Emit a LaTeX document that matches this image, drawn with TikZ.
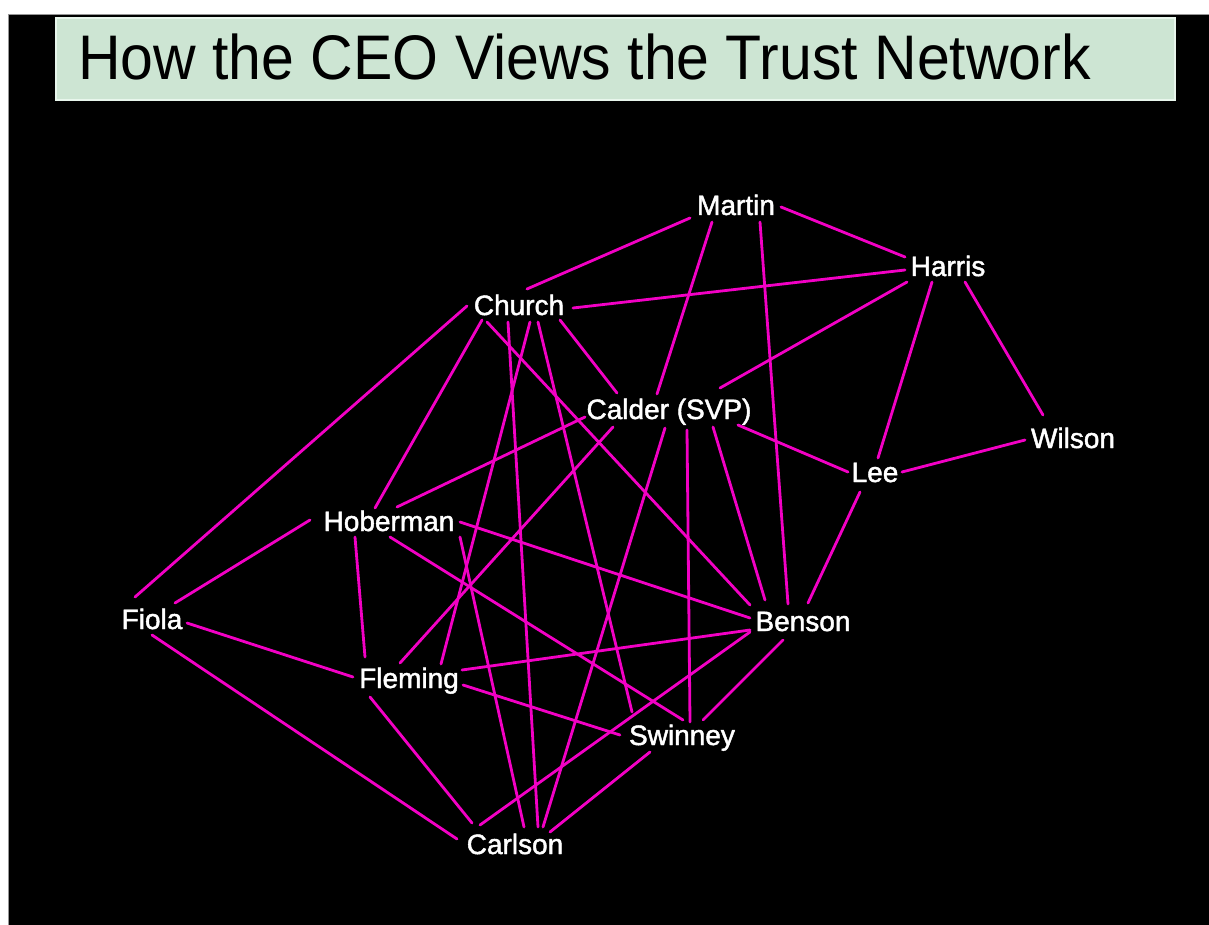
\documentclass[tikz,border=0pt]{standalone}
\usepackage{fontspec}
\setmainfont{Liberation Sans}
\newfontfamily\namefont[FakeBold=1.6]{Liberation Sans}
\usetikzlibrary{calc}
\definecolor{panelbg}{RGB}{0,0,0}
\definecolor{titlebg}{RGB}{205,229,211}
\definecolor{titleedge}{RGB}{232,246,236}
\definecolor{trustline}{RGB}{242,0,196}
\definecolor{frameline}{RGB}{150,150,150}
% one trust tie: node name, offset from its centre, node name, offset
\newcommand\trustlink[4]{\draw[tie] ($(#1)+(#2)$) -- ($(#3)+(#4)$);}
\begin{document}
\begin{tikzpicture}[x=1pt,y=-1pt,
  person/.style={text=white,font=\namefont\fontsize{28}{28}\selectfont,inner sep=0pt,
    text height=20pt,text depth=0pt,anchor=center},
  tie/.style={draw=trustline,line width=2.8pt,line cap=round}]
\useasboundingbox (0,0) rectangle (1209,925);
\fill[white] (0,0) rectangle (1209,925);
\fill[panelbg] (8,15) rectangle (1209,925);
\draw[frameline,line width=1pt] (8,925) -- (8,15) -- (1209,15);
% title banner
\filldraw[fill=titlebg,draw=titleedge,line width=1.5pt] (56,18) rectangle (1175,100);
\node[anchor=base west,inner sep=0pt,text=black] (title) at (78,80)
  {\scalebox{0.936}[1]{\fontsize{63}{63}\selectfont How the CEO Views the Trust Network}};
% people
\node[person] (martin)   at (736,205) {Martin};
\node[person] (harris)   at (948,266) {Harris};
\node[person] (church)   at (519,305) {Church};
\node[person] (calder)   at (669,409) {Calder (SVP)};
\node[person] (wilson)   at (1073,438) {Wilson};
\node[person] (lee)      at (875,472) {Lee};
\node[person] (hoberman) at (389,521) {Hoberman};
\node[person] (fiola)    at (152,619) {Fiola};
\node[person] (benson)   at (803,621) {Benson};
\node[person] (fleming)  at (409,678) {Fleming};
\node[person] (swinney)  at (682,735) {Swinney};
\node[person] (carlson)  at (515,844) {Carlson};
% ties
\trustlink{martin}{-46,13}{church}{8,-16}
\trustlink{martin}{45,2}{harris}{-43,-9}
\trustlink{martin}{-24,17}{calder}{-12,-15}
\trustlink{martin}{24,17}{benson}{-15,-17}
\trustlink{harris}{-43,4}{church}{54,3}
\trustlink{harris}{-41,16}{calder}{51,-21}
\trustlink{harris}{-16,16}{lee}{3,-14}
\trustlink{harris}{17,16}{wilson}{-30,-23}
\trustlink{church}{-52,1}{fiola}{-17,-22}
\trustlink{church}{-37,15}{hoberman}{-14,-13}
\trustlink{church}{41,15}{calder}{-52,-16}
\trustlink{church}{-32,17}{benson}{-53,-16}
\trustlink{church}{-11,17}{carlson}{23,-17}
\trustlink{church}{11,17}{fleming}{32,-14}
\trustlink{church}{19,17}{swinney}{-50,-23}
\trustlink{calder}{-84,8}{hoberman}{8,-14}
\trustlink{calder}{-56,18}{fleming}{-9,-15}
\trustlink{calder}{-4,19}{carlson}{28,-17}
\trustlink{calder}{18,21}{swinney}{8,-13}
\trustlink{calder}{44,18}{benson}{-38,-21}
\trustlink{calder}{69,16}{lee}{-27,0}
\trustlink{lee}{27,0}{wilson}{-48,2}
\trustlink{lee}{-15,20}{benson}{5,-18}
\trustlink{hoberman}{-79,-1}{fiola}{23,-16}
\trustlink{hoberman}{-34,16}{fleming}{-44,-21}
\trustlink{hoberman}{71,1}{benson}{-53,-3}
\trustlink{hoberman}{1,16}{swinney}{1,-15}
\trustlink{hoberman}{71,16}{carlson}{9,-17}
\trustlink{fiola}{35,4}{fleming}{-56,-1}
\trustlink{fiola}{0,16}{carlson}{-58,-5}
\trustlink{fleming}{53,-8}{benson}{-53,9}
\trustlink{fleming}{54,7}{swinney}{-62,0}
\trustlink{fleming}{-39,19}{carlson}{-43,-21}
\trustlink{benson}{-20,19}{swinney}{21,-15}
\trustlink{benson}{-53,11}{carlson}{-35,-19}
\trustlink{swinney}{-32,17}{carlson}{35,-12}
\end{tikzpicture}
\end{document}
